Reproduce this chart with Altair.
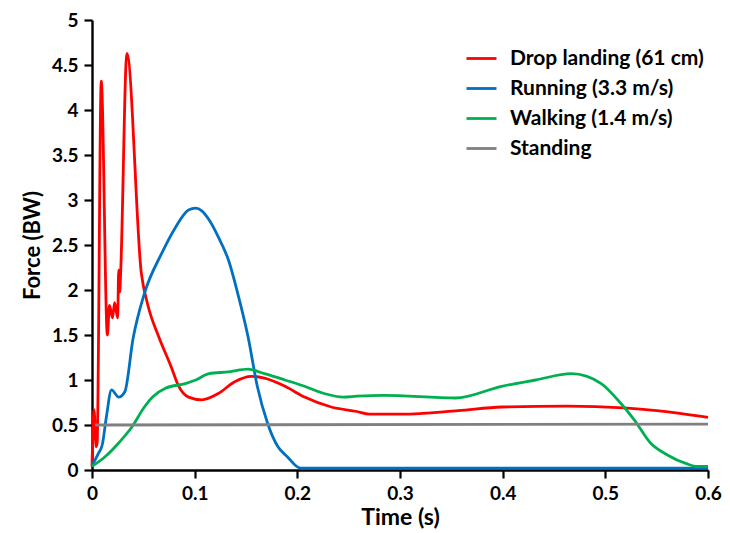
import altair as alt
import pandas as pd

series_names = ["Drop landing (61 cm)", "Running (3.3 m/s)", "Walking (1.4 m/s)", "Standing"]
series_colors = ["#FF0000", "#0070C0", "#00B050", "#808080"]

drop_t = [0, 0.002, 0.004, 0.005, 0.009, 0.015, 0.017, 0.020, 0.022, 0.025, 0.026, 0.027, 0.028,
          0.034, 0.048, 0.054, 0.065, 0.077, 0.084, 0.094, 0.107, 0.123, 0.139, 0.155, 0.168,
          0.188, 0.207, 0.233, 0.258, 0.270, 0.302, 0.357, 0.399, 0.463, 0.518, 0.550, 0.600]
drop_f = [0.04, 0.67, 0.26, 0.30, 4.32, 1.50, 1.83, 1.69, 1.86, 1.69, 2.22, 1.98, 2.22,
          4.63, 2.19, 1.85, 1.48, 1.15, 0.94, 0.81, 0.78, 0.85, 0.98, 1.04, 1.02,
          0.93, 0.81, 0.70, 0.65, 0.62, 0.62, 0.66, 0.70, 0.71, 0.69, 0.66, 0.585]

run_t = [0, 0.006, 0.010, 0.014, 0.019, 0.026, 0.032, 0.040, 0.051, 0.068, 0.081, 0.094, 0.101,
         0.107, 0.114, 0.123, 0.133, 0.142, 0.152, 0.161, 0.171, 0.181, 0.190, 0.203, 0.210, 0.600]
run_f = [0.05, 0.18, 0.28, 0.59, 0.89, 0.81, 0.87, 1.46, 1.96, 2.41, 2.69, 2.89, 2.91,
         2.88, 2.78, 2.59, 2.33, 1.96, 1.48, 0.93, 0.52, 0.26, 0.15, 0.02, 0.02, 0.02]

walk_t = [0, 0.013, 0.026, 0.039, 0.051, 0.059, 0.072, 0.091, 0.101, 0.114, 0.133, 0.152, 0.168,
          0.188, 0.207, 0.226, 0.245, 0.258, 0.284, 0.354, 0.399, 0.432, 0.467, 0.496, 0.512,
          0.528, 0.544, 0.560, 0.579, 0.589, 0.600]
walk_f = [0.04, 0.15, 0.30, 0.48, 0.70, 0.81, 0.91, 0.96, 1.00, 1.07, 1.09, 1.12, 1.07,
          1.00, 0.93, 0.85, 0.81, 0.82, 0.83, 0.80, 0.93, 1.00, 1.07, 0.96, 0.78,
          0.56, 0.30, 0.17, 0.07, 0.04, 0.04]

stand_t = [0.003, 0.600]
stand_f = [0.50, 0.51]

rows = []
for name, ts, fs in zip(series_names, [drop_t, run_t, walk_t, stand_t], [drop_f, run_f, walk_f, stand_f]):
    for i, (t, f) in enumerate(zip(ts, fs)):
        rows.append({"series": name, "t": t, "f": f, "order": i})
df = pd.DataFrame(rows)

FONT = "Lato"

chart = alt.Chart(df).mark_line(strokeWidth=2.8, interpolate="monotone").encode(
    x=alt.X("t:Q", title="Time (s)",
            scale=alt.Scale(domain=[0, 0.6], nice=False),
            axis=alt.Axis(values=[0, 0.1, 0.2, 0.3, 0.4, 0.5, 0.6], format="~g",
                          labelFlush=False, titlePadding=3, titleFontSize=23)),
    y=alt.Y("f:Q", title="Force (BW)",
            scale=alt.Scale(domain=[0, 5], nice=False),
            axis=alt.Axis(values=[0, 0.5, 1, 1.5, 2, 2.5, 3, 3.5, 4, 4.5, 5], format="~g",
                          labelFlush=False, titlePadding=7, titleFontSize=22)),
    color=alt.Color("series:N",
                    scale=alt.Scale(domain=series_names, range=series_colors),
                    legend=alt.Legend(title=None, orient="none", legendX=373, legendY=22,
                                      symbolType="stroke", symbolSize=900, symbolStrokeWidth=2.8,
                                      labelFont=FONT, labelFontSize=21, labelFontWeight="bold",
                                      labelColor="black", rowPadding=3, labelOffset=12,
                                      labelLimit=400)),
    order="order:Q",
    detail="series:N",
).properties(
    width=616, height=450,
    padding={"left": 84, "top": 12, "right": 14, "bottom": 60},
    autosize=alt.AutoSizeParams(type="none"),
).configure_view(stroke=None).configure_axis(
    grid=False, domainColor="black", domainWidth=2.4, tickColor="black", tickWidth=2.2,
    tickSize=8, labelFont=FONT, labelFontSize=19, labelFontWeight="bold", labelColor="black",
    titleFont=FONT, titleFontWeight="bold", titleColor="black",
    labelPadding=6,
)

chart.save("out.html", embed_options={"renderer": "svg", "actions": False})
